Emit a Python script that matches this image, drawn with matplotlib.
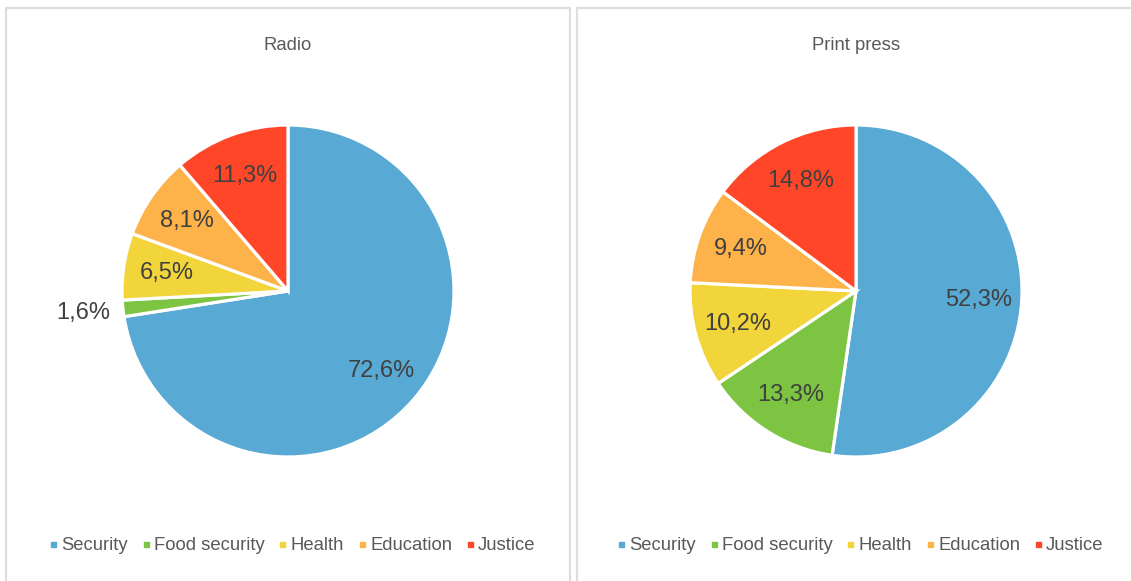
import numpy as np
import matplotlib
matplotlib.use("Agg")
import matplotlib.pyplot as plt
from matplotlib.lines import Line2D

plt.rcParams['font.family'] = ['Liberation Sans', 'DejaVu Sans']

categories = ["Security", "Food security", "Health", "Education", "Justice"]
radio = [72.6, 1.6, 6.5, 8.1, 11.3]
print_press = [52.3, 13.3, 10.2, 9.4, 14.8]
titles = ["Radio", "Print press"]
colors = ["#58AAD4", "#7DC443", "#F2D43B", "#FDB34A", "#FF4629"]

W, H = 1131, 581
fig = plt.figure(figsize=(W/100, H/100), dpi=100)

# panel frames (light grey boxes, open at the bottom / right)
bc = "#DEDEDE"
for (x0, x1) in [(6, 570), (577, 1140)]:
    xs = [x0, x0, x1, x1]
    ys = [H + 5, 8, 8, H + 5]
    fig.add_artist(Line2D([x/W for x in xs], [1 - y/H for y in ys],
                          color=bc, lw=1.6, transform=fig.transFigure))

centers = [(288, 291), (856, 291)]
R = 166
half = 240

for k, vals in enumerate([radio, print_press]):
    cx, cy = centers[k]
    ax = fig.add_axes([(cx-half)/W, 1-(cy+half)/H, 2*half/W, 2*half/H])
    wedges, _ = ax.pie(vals, colors=colors, startangle=90, counterclock=False,
                       radius=R, wedgeprops=dict(edgecolor="white", linewidth=2.3))
    ax.set_xlim(-half, half); ax.set_ylim(-half, half)
    ax.set_aspect('equal'); ax.set_axis_off()
    for w, v in zip(wedges, vals):
        mid = np.deg2rad((w.theta1 + w.theta2)/2)
        d = 0.74 if v >= 3 else 1.24
        ax.text(d*R*np.cos(mid), d*R*np.sin(mid), ("%.1f%%" % v).replace(".", ","),
                ha="center", va="center", fontsize=17, color="#404040")
    fig.text(cx/W, 1-45/H, titles[k], ha="center", va="center",
             fontsize=13.3, color="#595959")
    handles = [Line2D([], [], marker="s", ls="", markersize=3.6, color=c) for c in colors]
    fig.legend(handles, categories, loc="center", bbox_to_anchor=((cx+5)/W, 1-546/H),
               ncol=5, frameon=False, fontsize=13.3, labelcolor="#595959",
               handlelength=0.3, handletextpad=0.3, columnspacing=0.8,
               borderaxespad=0, borderpad=0)

fig.savefig("out.png", dpi=100)
